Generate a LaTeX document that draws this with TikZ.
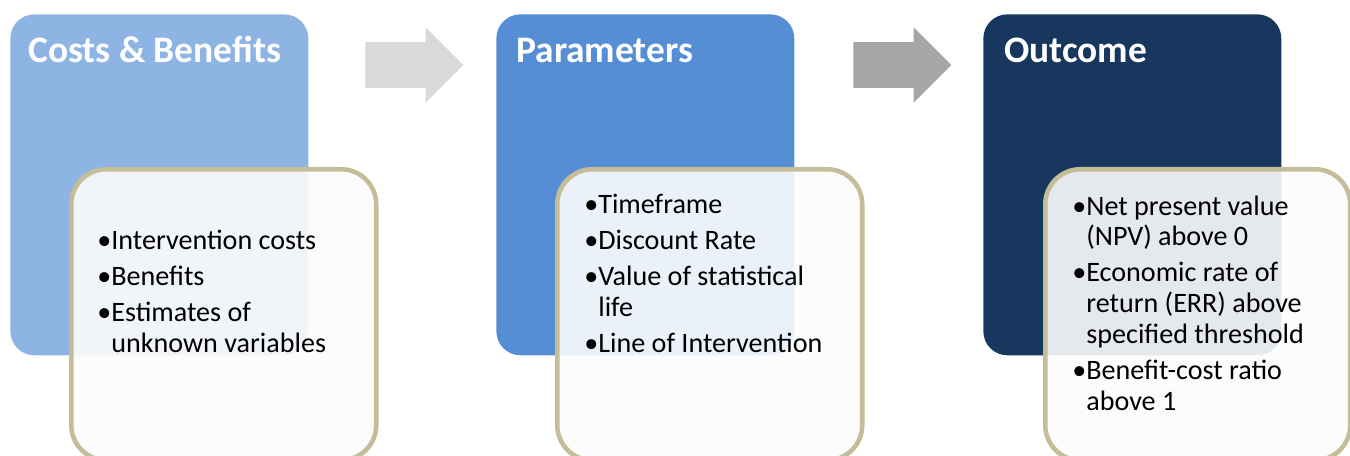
\documentclass[tikz,border=0pt]{standalone}
\usepackage{fontspec}
\setmainfont{Carlito}
\usepackage{xcolor}
\usetikzlibrary{shapes.arrows, positioning}

\definecolor{costblue}{HTML}{8EB4E3}
\definecolor{parblue}{HTML}{558ED5}
\definecolor{outnavy}{HTML}{17375E}
\definecolor{frametan}{HTML}{C4BD97}
\definecolor{cardwhite}{HTML}{FCFCFC}
\definecolor{arrowlight}{HTML}{D9D9D9}
\definecolor{arrowdark}{HTML}{A6A6A6}

\begin{document}
\begin{tikzpicture}[
  x=0.02cm, y=-0.02cm,
  stage/.style={
    rounded corners=0.48cm,
    minimum width=5.96cm,
    minimum height=6.82cm,
    inner sep=0pt,
    anchor=north west
  },
  stagetitle/.style={
    text=white,
    font=\bfseries\fontsize{21.3}{24}\selectfont,
    anchor=base west,
    inner sep=0pt
  },
  detail/.style={
    draw=frametan,
    line width=2.6pt,
    fill=cardwhite,
    fill opacity=0.9,
    rounded corners=0.7cm,
    minimum width=6.1cm,
    minimum height=5.82cm,
    inner sep=0pt,
    anchor=north west
  },
  itemlist/.style={
    font=\fontsize{16}{17.6}\selectfont,
    anchor=base west,
    inner sep=0pt,
    align=left
  },
  flow/.style={
    single arrow,
    single arrow head extend=0.3cm,
    inner xsep=0pt,
    inner ysep=0.45cm,
    minimum height=1.96cm
  }
]

\useasboundingbox (0,0) rectangle (1350,456);
\clip (0,0) rectangle (1350,456);

% Stage boxes
\node[stage, fill=costblue] (cost) at (10,14) {};
\node[stage, fill=parblue] (param) at (496,14) {};
\node[stage, fill=outnavy] (outc) at (983,14) {};

% Titles
\node[stagetitle] (costtitle) at (28,63) {Costs \& Benefits};
\node[stagetitle] (paramtitle) at (516,63) {Parameters};
\node[stagetitle] (outctitle) at (1004,63) {Outcome};

% Arrows between stages
\node[flow, fill=arrowlight] (flowa) at (403,65) {};
\node[flow, fill=arrowdark] (flowb) at (891,65) {};

% Detail cards
\node[detail] (costcard) at (69,167) {};
\node[detail] (paramcard) at (555,167) {};
\node[detail] (outccard) at (1043,167) {};

% Card texts
\node[itemlist] (costitems) at (97,250) {%
  \begin{tabular}[t]{@{}l@{}l@{}}
    •&Intervention costs\\[2.8pt]
    •&Benefits\\[2.8pt]
    •&Estimates of\\
     &unknown variables
  \end{tabular}};

\node[itemlist] (paramitems) at (584,214) {%
  \begin{tabular}[t]{@{}l@{}l@{}}
    •&Timeframe\\[2.8pt]
    •&Discount Rate\\[2.8pt]
    •&Value of statistical\\
     &life\\[2.8pt]
    •&Line of Intervention
  \end{tabular}};

\node[itemlist] (outcitems) at (1072,215) {%
  \begin{tabular}[t]{@{}l@{}l@{}}
    •&Net present value\\
     &(NPV) above 0\\[2.8pt]
    •&Economic rate of\\
     &return (ERR) above\\
     &specified threshold\\[2.8pt]
    •&Benefit-cost ratio\\
     &above 1
  \end{tabular}};

\end{tikzpicture}
\end{document}
